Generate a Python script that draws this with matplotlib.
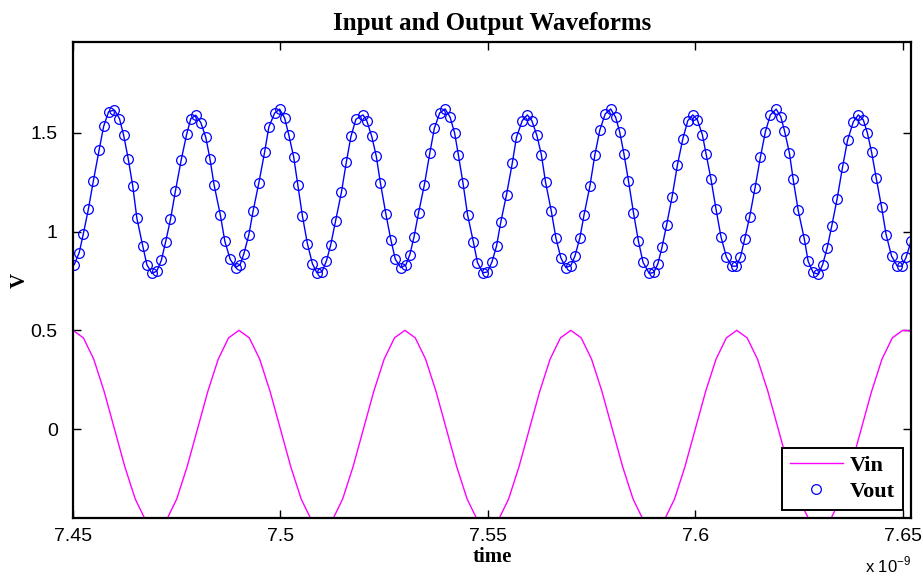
import numpy as np
import matplotlib.pyplot as plt

plt.rcParams['mathtext.fontset'] = 'custom'
plt.rcParams['mathtext.rm'] = 'Liberation Sans'

# %% data (time in ns, voltage in V)
t_in = [7.4500, 7.4525, 7.4550, 7.4575, 7.4600, 7.4625, 7.4650, 7.4675,
        7.4700, 7.4725, 7.4750, 7.4775, 7.4800, 7.4825, 7.4850, 7.4875,
        7.4900, 7.4925, 7.4950, 7.4975, 7.5000, 7.5025, 7.5050, 7.5075,
        7.5100, 7.5125, 7.5150, 7.5175, 7.5200, 7.5225, 7.5250, 7.5275,
        7.5300, 7.5325, 7.5350, 7.5375, 7.5400, 7.5425, 7.5450, 7.5475,
        7.5500, 7.5525, 7.5550, 7.5575, 7.5600, 7.5625, 7.5650, 7.5675,
        7.5700, 7.5725, 7.5750, 7.5775, 7.5800, 7.5825, 7.5850, 7.5875,
        7.5900, 7.5925, 7.5950, 7.5975, 7.6000, 7.6025, 7.6050, 7.6075,
        7.6100, 7.6125, 7.6150, 7.6175, 7.6200, 7.6225, 7.6250, 7.6275,
        7.6300, 7.6325, 7.6350, 7.6375, 7.6400, 7.6425, 7.6450, 7.6475,
        7.6500, 7.6520]
v_in = [0.500, 0.462, 0.354, 0.191, 0.000, -0.191, -0.354, -0.462,
        -0.500, -0.462, -0.354, -0.191, 0.000, 0.191, 0.354, 0.462,
        0.500, 0.462, 0.354, 0.191, 0.000, -0.191, -0.354, -0.462,
        -0.500, -0.462, -0.354, -0.191, 0.000, 0.191, 0.354, 0.462,
        0.500, 0.462, 0.354, 0.191, 0.000, -0.191, -0.354, -0.462,
        -0.500, -0.462, -0.354, -0.191, 0.000, 0.191, 0.354, 0.462,
        0.500, 0.462, 0.354, 0.191, 0.000, -0.191, -0.354, -0.462,
        -0.500, -0.462, -0.354, -0.191, 0.000, 0.191, 0.354, 0.462,
        0.500, 0.462, 0.354, 0.191, 0.000, -0.191, -0.354, -0.462,
        -0.500, -0.462, -0.354, -0.191, 0.000, 0.191, 0.354, 0.462,
        0.500, 0.497]

t_out = [7.4503, 7.4515, 7.4525, 7.4537, 7.4549, 7.4563, 7.4574, 7.4586,
         7.4600, 7.4612, 7.4622, 7.4633, 7.4644, 7.4654, 7.4668, 7.4678,
         7.4690, 7.4702, 7.4713, 7.4723, 7.4735, 7.4747, 7.4761, 7.4774,
         7.4784, 7.4796, 7.4808, 7.4820, 7.4830, 7.4840, 7.4855, 7.4866,
         7.4879, 7.4892, 7.4903, 7.4912, 7.4924, 7.4934, 7.4948, 7.4962,
         7.4972, 7.4986, 7.4998, 7.5010, 7.5020, 7.5032, 7.5042, 7.5053,
         7.5065, 7.5077, 7.5088, 7.5100, 7.5111, 7.5121, 7.5133, 7.5147,
         7.5159, 7.5170, 7.5182, 7.5199, 7.5208, 7.5220, 7.5231, 7.5241,
         7.5254, 7.5266, 7.5277, 7.5290, 7.5302, 7.5312, 7.5322, 7.5333,
         7.5347, 7.5360, 7.5371, 7.5384, 7.5397, 7.5409, 7.5420, 7.5429,
         7.5440, 7.5451, 7.5465, 7.5475, 7.5488, 7.5499, 7.5510, 7.5521,
         7.5531, 7.5545, 7.5559, 7.5569, 7.5583, 7.5595, 7.5606, 7.5618,
         7.5629, 7.5639, 7.5653, 7.5664, 7.5676, 7.5688, 7.5700, 7.5710,
         7.5722, 7.5732, 7.5746, 7.5758, 7.5770, 7.5783, 7.5796, 7.5808,
         7.5818, 7.5828, 7.5839, 7.5851, 7.5863, 7.5874, 7.5889, 7.5900,
         7.5910, 7.5920, 7.5931, 7.5944, 7.5957, 7.5970, 7.5982, 7.5994,
         7.6005, 7.6017, 7.6026, 7.6038, 7.6050, 7.6062, 7.6075, 7.6088,
         7.6099, 7.6109, 7.6119, 7.6131, 7.6144, 7.6157, 7.6169, 7.6181,
         7.6195, 7.6206, 7.6215, 7.6227, 7.6236, 7.6248, 7.6263, 7.6272,
         7.6284, 7.6297, 7.6307, 7.6318, 7.6329, 7.6342, 7.6355, 7.6367,
         7.6381, 7.6393, 7.6405, 7.6415, 7.6425, 7.6436, 7.6449, 7.6460,
         7.6473, 7.6487, 7.6498, 7.6508, 7.6520]
v_out = [0.833, 0.894, 0.990, 1.113, 1.256, 1.414, 1.534, 1.608,
         1.615, 1.572, 1.488, 1.370, 1.231, 1.067, 0.928, 0.833,
         0.788, 0.800, 0.855, 0.946, 1.062, 1.207, 1.365, 1.493,
         1.572, 1.589, 1.552, 1.478, 1.370, 1.237, 1.086, 0.951,
         0.859, 0.818, 0.833, 0.889, 0.985, 1.103, 1.247, 1.404,
         1.529, 1.600, 1.620, 1.576, 1.491, 1.377, 1.236, 1.079,
         0.939, 0.838, 0.791, 0.796, 0.852, 0.931, 1.056, 1.199,
         1.354, 1.482, 1.569, 1.591, 1.562, 1.483, 1.382, 1.246,
         1.091, 0.960, 0.860, 0.818, 0.830, 0.884, 0.973, 1.096,
         1.237, 1.397, 1.523, 1.601, 1.621, 1.579, 1.498, 1.387,
         1.247, 1.086, 0.948, 0.843, 0.791, 0.796, 0.847, 0.928,
         1.047, 1.187, 1.348, 1.478, 1.562, 1.591, 1.562, 1.488,
         1.389, 1.251, 1.103, 0.968, 0.867, 0.818, 0.828, 0.877,
         0.970, 1.086, 1.231, 1.389, 1.515, 1.596, 1.621, 1.579,
         1.503, 1.394, 1.256, 1.096, 0.951, 0.845, 0.788, 0.793,
         0.838, 0.923, 1.035, 1.175, 1.338, 1.470, 1.562, 1.591,
         1.566, 1.491, 1.394, 1.264, 1.113, 0.973, 0.872, 0.825,
         0.825, 0.872, 0.961, 1.074, 1.221, 1.377, 1.506, 1.591,
         1.620, 1.582, 1.511, 1.397, 1.264, 1.108, 0.961, 0.850,
         0.793, 0.784, 0.833, 0.918, 1.029, 1.167, 1.327, 1.462,
         1.556, 1.591, 1.566, 1.498, 1.402, 1.273, 1.125, 0.985,
         0.877, 0.825, 0.825, 0.869, 0.951]

xticks = [7.45, 7.5, 7.55, 7.6, 7.65]
xticklabels = ['7.45', '7.5', '7.55', '7.6', '7.65']
yticks = [0, 0.5, 1, 1.5]
yticklabels = ['0', '0.5', '1', '1.5']

# %% plot
serif = 'Liberation Serif'
sans = 'Liberation Sans'

fig = plt.figure(figsize=(9.23, 5.77), dpi=100)
ax = fig.add_axes([0.0791, 0.1023, 0.9079, 0.8249])

ax.plot(t_in, v_in, color='#ff00ff', lw=1.0, label='Vin')
ax.plot(t_out, v_out, color='#0000ff', lw=1.0)
ax.plot(t_out, v_out, 'o', mfc='none', mec='#0000ff', ms=7, mew=0.9,
        label='Vout')

ax.set_xlim(7.45, 7.652)
ax.set_ylim(-0.45, 1.96)
ax.set_xticks(xticks)
ax.set_xticklabels(xticklabels, fontname=sans, fontsize=14)
ax.set_yticks(yticks)
ax.set_yticklabels(yticklabels, fontname=sans, fontsize=14)
ax.tick_params(direction='in', top=True, right=True, length=6, width=1)
ax.tick_params(axis='x', pad=7)
ax.tick_params(axis='y', pad=11)
for s in ax.spines.values():
    s.set_linewidth(1.6)

ax.set_title('Input and Output Waveforms', fontname=serif, fontsize=18,
             fontweight='bold', pad=9)
ax.set_xlabel('time', fontname=serif, fontsize=15, fontweight='bold',
              labelpad=2)
ax.set_ylabel('V', fontname=serif, fontsize=15, fontweight='bold')
ax.yaxis.set_label_coords(-0.052, 0.5)
ax.text(1.0, -0.1, r'x 10$^{-9}$', transform=ax.transAxes, ha='right',
        va='center', fontname=sans, fontsize=12)

leg = ax.legend(loc='lower right', bbox_to_anchor=(0.99, 0.017),
                borderaxespad=0, fancybox=False, framealpha=1,
                edgecolor='black', handlelength=2.4, handletextpad=0.3,
                borderpad=0.35, labelspacing=0.25,
                prop={'family': serif, 'weight': 'bold', 'size': 16})
leg.get_frame().set_linewidth(1.4)

fig.savefig('out.png', dpi=100)
